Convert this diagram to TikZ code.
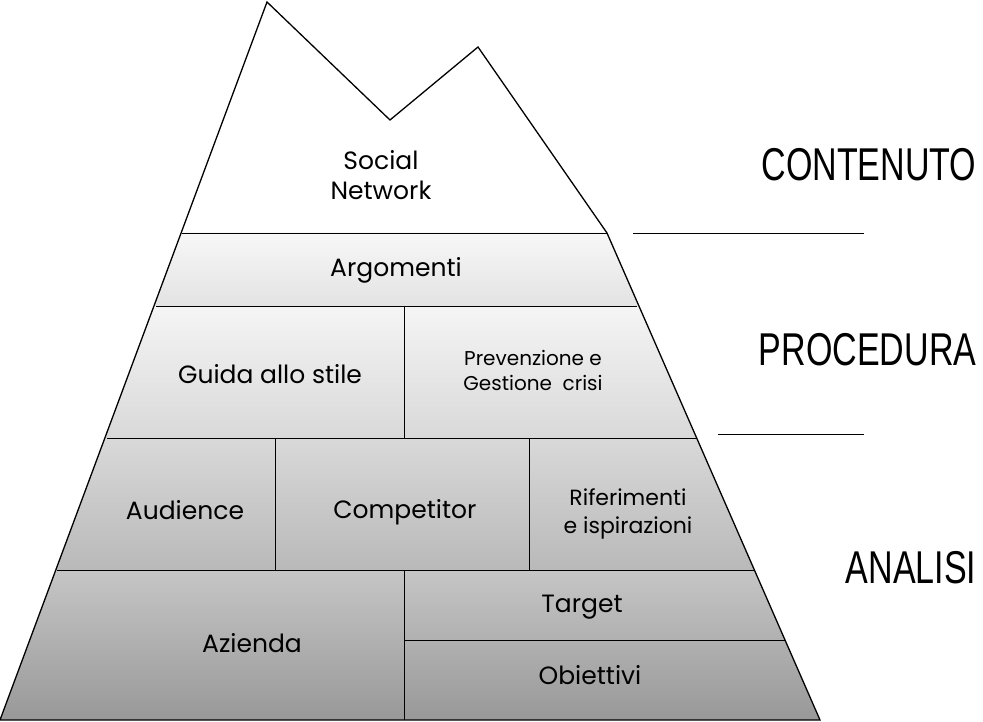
\documentclass[tikz,border=0pt]{standalone}
\usepackage{fontspec}
\setmainfont{Poppins}
\newfontfamily\labfont{Liberation Sans}
\begin{document}
\begin{tikzpicture}[x=1pt,y=-1pt,
  cell/.style={font=\fontsize{25}{30}\selectfont,align=center},
  small/.style={font=\fontsize{20}{25}\selectfont,align=center},
  side/.style={font=\labfont\fontsize{46}{50}\selectfont,xscale=0.74,anchor=east},
  sep/.style={line width=0.8pt}]
\useasboundingbox (0,0) rectangle (983,722);
\def\mnt{(267,2)--(390,120)--(478,47)--(607,233)--(820,720)--(0,720)--cycle}
\begin{scope}
\clip \mnt;
\fill[white] (0,0) rectangle (983,233);
\shade[top color=gray!6,bottom color=gray!22] (0,233) rectangle (983,306);
\shade[top color=gray!8,bottom color=gray!30] (0,306) rectangle (983,438);
\shade[top color=gray!30,bottom color=gray!55] (0,438) rectangle (983,570);
\shade[top color=gray!45,bottom color=gray!85!black!70] (0,570) rectangle (983,720);
\end{scope}
\draw[line width=1.3pt,line join=miter] \mnt;
\draw[sep] (182,233)--(607,233);
\draw[sep] (156,306)--(637,306);
\draw[sep] (107,438)--(697,438);
\draw[sep] (57,570)--(754,570);
\draw[sep] (404,640)--(785,640);
\draw[sep] (404,306)--(404,438);
\draw[sep] (275,438)--(275,570);
\draw[sep] (529,438)--(529,570);
\draw[sep] (404,570)--(404,720);
\node[cell] (sn) at (381,175) {Social\\Network};
\node[cell] (arg) at (396,270) {Argomenti};
\node[cell] (gs) at (270,374) {Guida allo stile};
\node[small] (pg) at (533,370) {Prevenzione e\\Gestione\ \ crisi};
\node[cell] (aud) at (185,510) {Audience};
\node[cell] (comp) at (405,512) {Competitor};
\node[small,font=\fontsize{22}{28}\selectfont] (rif) at (628,514) {Riferimenti\\e ispirazioni};
\node[cell] (az) at (252,643) {Azienda};
\node[cell] (tg) at (582,607) {Target};
\node[cell] (ob) at (590,675) {Obiettivi};
\node[side] (c) at (979,165) {CONTENUTO};
\node[side] (p) at (979,350) {PROCEDURA};
\node[side] (a) at (979,568) {ANALISI};
\coordinate (l1a) at (633,233); \coordinate (l1b) at (864,233);
\coordinate (l2a) at (718,434); \coordinate (l2b) at (864,434);
\draw[line width=0.8pt] (l1a)--(l1b);
\draw[line width=0.8pt] (l2a)--(l2b);
\end{tikzpicture}
\end{document}
